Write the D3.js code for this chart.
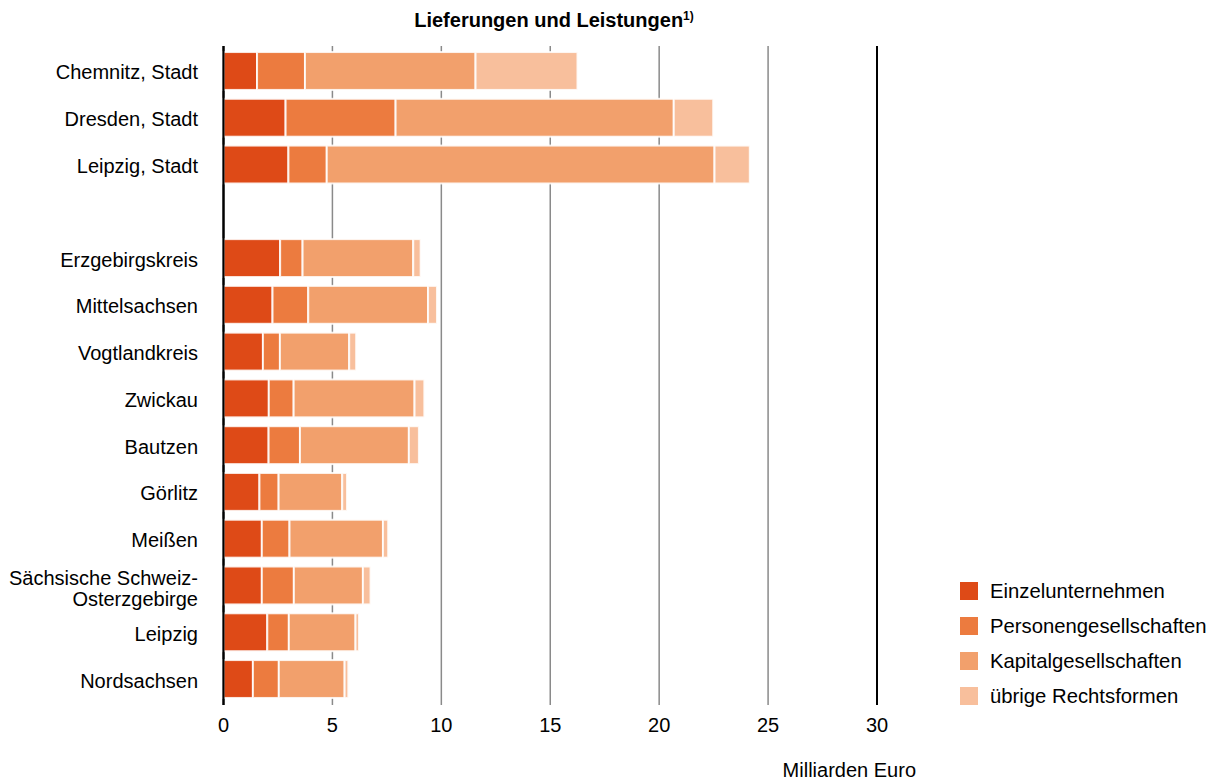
<!DOCTYPE html>
<html><head><meta charset="utf-8">
<script src="https://cdn.jsdelivr.net/npm/d3@7"></script>
<style>body{margin:0;background:#fff;font-family:"Liberation Sans",Arial,sans-serif;}</style>
</head><body><svg id="c" width="1216" height="780"></svg>
<script>
const categories = ["Chemnitz, Stadt","Dresden, Stadt","Leipzig, Stadt","","Erzgebirgskreis","Mittelsachsen","Vogtlandkreis","Zwickau","Bautzen","Görlitz","Meißen","Sächsische Schweiz-\nOsterzgebirge","Leipzig","Nordsachsen"];
const seriesNames = ["Einzelunternehmen","Personengesellschaften","Kapitalgesellschaften","übrige Rechtsformen"];
const einzel  = [1.54,2.85,2.98,null,2.60,2.25,1.81,2.08,2.07,1.65,1.76,1.76,2.01,1.35];
const personen= [2.20,5.05,1.76,null,1.03,1.64,0.78,1.14,1.44,0.88,1.27,1.47,0.99,1.19];
const kapital = [7.83,12.77,17.80,null,5.08,5.50,3.18,5.55,5.00,2.92,4.29,3.17,3.06,3.02];
const uebrige = [4.68,1.81,1.62,null,0.34,0.41,0.32,0.45,0.46,0.22,0.24,0.35,0.16,0.17];
const xTicks = [0,5,10,15,20,25,30];
const colors = ["#de4a17","#ec7b3f","#f2a06c","#f8bf9c"];

const svg = d3.select("#c");
const x = d3.scaleLinear().domain([0,30]).range([223.5,877]);
const y = d3.scaleBand().domain(d3.range(categories.length)).range([47.6,702.4]).paddingInner(0.19).paddingOuter(0.095);

// gridlines
svg.append("g").selectAll("line").data(xTicks).join("line")
  .attr("x1",d=>x(d)).attr("x2",d=>x(d)).attr("y1",46).attr("y2",705)
  .attr("stroke",d=>(d===0||d===30)?"#000":"#8a8a8a")
  .attr("stroke-width",d=>(d===0||d===30)?2:1.5);

// stacked data
const rows = categories.map((c,i)=>({i, vals:[einzel[i],personen[i],kapital[i],uebrige[i]]})).filter(r=>r.vals[0]!=null);
const stack = d3.stack().keys([0,1,2,3]).value((r,k)=>r.vals[k]);
const layers = stack(rows);
svg.append("g").selectAll("g").data(layers).join("g").attr("fill",(d,k)=>colors[k])
  .selectAll("rect").data(d=>d).join("rect")
  .attr("x",d=>x(d[0])).attr("width",d=>Math.max(0,x(d[1])-x(d[0])))
  .attr("y",d=>y(d.data.i)).attr("height",y.bandwidth())
  .attr("stroke","#fff").attr("stroke-opacity",0.85).attr("stroke-width",2);

// redraw zero axis on top
svg.append("line").attr("x1",x(0)).attr("x2",x(0)).attr("y1",46).attr("y2",705).attr("stroke","#000").attr("stroke-width",2);

// category labels
const lab = svg.append("g").attr("font-size",20).attr("fill","#000").attr("text-anchor","end");
categories.forEach((c,i)=>{
  if(!c) return;
  const lines = c.split("\n");
  const cy = y(i)+y.bandwidth()/2;
  const t = lab.append("text").attr("x",198);
  lines.forEach((l,j)=>{
    const yy = lines.length===1 ? cy+8.5 : cy+0+j*21;
    t.append("tspan").attr("x",198).attr("y",yy).text(l);
  });
});

// x tick labels
svg.append("g").selectAll("text").data(xTicks).join("text")
  .attr("x",d=>x(d)).attr("y",732).attr("text-anchor","middle").attr("font-size",20).text(d=>d);

svg.append("text").attr("x",916).attr("y",777).attr("text-anchor","end").attr("font-size",20).text("Milliarden Euro");

// title
const title = svg.append("text").attr("x",554).attr("y",27).attr("text-anchor","middle").attr("font-size",20).attr("font-weight","bold");
title.append("tspan").text("Lieferungen und Leistungen");
title.append("tspan").attr("font-size",12).attr("dy",-7).text("1)");

// legend
const leg = svg.append("g");
seriesNames.forEach((n,k)=>{
  const top = 582 + k*35;
  leg.append("rect").attr("x",960).attr("y",top).attr("width",18).attr("height",18).attr("fill",colors[k]);
  leg.append("text").attr("x",990).attr("y",top+16).attr("font-size",20.3).text(n);
});
</script></body></html>
